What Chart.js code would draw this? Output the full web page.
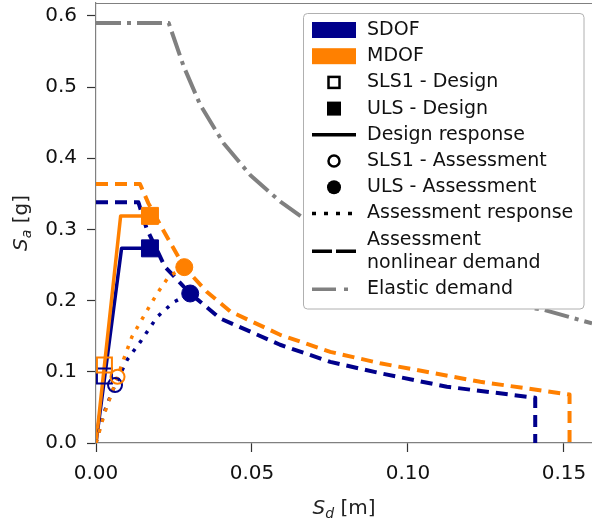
<!DOCTYPE html>
<html>
<head>
<meta charset="utf-8">
<script src="https://cdn.jsdelivr.net/npm/chart.js@4.4.0/dist/chart.umd.min.js"></script>
<style>
  html, body { margin: 0; padding: 0; background: #fff; }
  #wrap { width: 592px; height: 525px; }
</style>
</head>
<body>
<div id="wrap"><canvas id="capacityChart" width="592" height="525"></canvas></div>
<script>
// Spectral displacement Sd [m] and spectral acceleration Sa [g]

// design response (bilinear)
var sdofDesignSd = [0, 0.0082, 0.0173];
var sdofDesignSa = [0, 0.2734, 0.2734];
var mdofDesignSd = [0, 0.0079, 0.0173];
var mdofDesignSa = [0, 0.319, 0.319];

// assessment response (pushover)
var sdofAssessSd = [0, 0.0023, 0.0039, 0.0061, 0.0100, 0.0142, 0.0196, 0.0249, 0.0302];
var sdofAssessSa = [0, 0.039, 0.058, 0.0815, 0.117, 0.142, 0.177, 0.198, 0.210];
var mdofAssessSd = [0, 0.0029, 0.0069, 0.0089, 0.0115, 0.0158, 0.0196, 0.0233, 0.0283];
var mdofAssessSa = [0, 0.044, 0.093, 0.118, 0.149, 0.182, 0.210, 0.2336, 0.247];

// assessment nonlinear demand
var sdofDemandSd = [0, 0.0136, 0.0162, 0.0221, 0.0302, 0.0398, 0.059, 0.0751, 0.0911, 0.1125, 0.1408, 0.1408];
var sdofDemandSa = [0.338, 0.338, 0.3015, 0.2476, 0.210, 0.175, 0.138, 0.114, 0.098, 0.079, 0.0636, 0];
var mdofDemandSd = [0, 0.0141, 0.0168, 0.0221, 0.0283, 0.0355, 0.043, 0.059, 0.0751, 0.0911, 0.1232, 0.1518, 0.1518];
var mdofDemandSa = [0.3638, 0.3638, 0.3366, 0.2945, 0.247, 0.2125, 0.185, 0.152, 0.128, 0.112, 0.086, 0.068, 0];

// elastic demand spectrum
var elasticSd = [0, 0.0233, 0.0281, 0.0334, 0.0409, 0.0495, 0.0591, 0.0665, 0.1408, 0.1435, 0.159];
var elasticSa = [0.59, 0.59, 0.529, 0.475, 0.421, 0.376, 0.339, 0.316, 0.189, 0.187, 0.168];

// performance points [Sd, Sa]
var sdofSls1Design = [0.0027, 0.094];
var mdofSls1Design = [0.0027, 0.1096];
var sdofUlsDesign = [0.0173, 0.2734];
var mdofUlsDesign = [0.0173, 0.319];
var sdofSls1Assess = [0.0061, 0.0815];
var mdofSls1Assess = [0.0069, 0.093];
var sdofUlsAssess = [0.0302, 0.210];
var mdofUlsAssess = [0.0283, 0.247];

var xTicks = [0, 0.05, 0.10, 0.15];
var xTickLabels = ['0.00', '0.05', '0.10', '0.15'];
var yTicks = [0, 0.1, 0.2, 0.3, 0.4, 0.5, 0.6];
var yTickLabels = ['0.0', '0.1', '0.2', '0.3', '0.4', '0.5', '0.6'];

var NAVY = '#00008b';
var ORANGE = '#ff8000';
var GREY = '#808080';
var FONT = 'DejaVu Sans';

function toPoints(sd, sa) {
  return sd.map(function(x, i) { return { x: x, y: sa[i] }; });
}

function curve(sd, sa, color, dash, width, order) {
  return {
    data: toPoints(sd, sa),
    showLine: true,
    borderColor: color,
    borderWidth: width,
    borderDash: dash,
    borderJoinStyle: 'round',
    pointRadius: 0,
    pointHoverRadius: 0,
    tension: 0,
    fill: false,
    order: order
  };
}

function marker(pt, color, style, radius, filled, order) {
  return {
    data: [{ x: pt[0], y: pt[1] }],
    showLine: false,
    pointStyle: style,
    pointRadius: radius,
    pointHoverRadius: radius,
    pointBorderWidth: filled ? 1 : 2,
    pointBorderColor: color,
    pointBackgroundColor: filled ? color : 'rgba(0,0,0,0)',
    order: order
  };
}

var DASHED = [12, 7];
var DOTTED = [3.5, 7.5];
var DASHDOT = [25, 6, 4, 6];

var datasets = [
  curve(elasticSd, elasticSa, GREY, DASHDOT, 4, 20),
  curve(sdofDemandSd, sdofDemandSa, NAVY, DASHED, 4, 19),
  curve(mdofDemandSd, mdofDemandSa, ORANGE, DASHED, 4, 18),
  curve(sdofDesignSd, sdofDesignSa, NAVY, [], 3.5, 17),
  curve(mdofDesignSd, mdofDesignSa, ORANGE, [], 3.5, 16),
  curve(sdofAssessSd, sdofAssessSa, NAVY, DOTTED, 3.5, 15),
  curve(mdofAssessSd, mdofAssessSa, ORANGE, DOTTED, 3.5, 14),
  marker(sdofSls1Design, NAVY, 'rect', 10.6, false, 9),
  marker(mdofSls1Design, ORANGE, 'rect', 10.6, false, 8),
  marker(sdofUlsDesign, NAVY, 'rect', 12, true, 7),
  marker(mdofUlsDesign, ORANGE, 'rect', 12, true, 6),
  marker(sdofSls1Assess, NAVY, 'circle', 7, false, 5),
  marker(mdofSls1Assess, ORANGE, 'circle', 7, false, 4),
  marker(sdofUlsAssess, NAVY, 'circle', 8.5, true, 3),
  marker(mdofUlsAssess, ORANGE, 'circle', 8.5, true, 2)
];

var legendItems = [
  { label: 'SDOF', kind: 'patch', color: NAVY },
  { label: 'MDOF', kind: 'patch', color: ORANGE },
  { label: 'SLS1 - Design', kind: 'squareOpen' },
  { label: 'ULS - Design', kind: 'squareFilled' },
  { label: 'Design response', kind: 'line', dash: [] },
  { label: 'SLS1 - Assessment', kind: 'circleOpen' },
  { label: 'ULS - Assessment', kind: 'circleFilled' },
  { label: 'Assessment response', kind: 'line', dash: [4, 8] },
  { label: ['Assessment', 'nonlinear demand'], kind: 'line', dash: [20, 4] },
  { label: 'Elastic demand', kind: 'line', dash: [24, 8, 4, 8], color: GREY }
];

// italic symbol with subscript followed by a unit, centred on the origin
function drawMathLabel(ctx, sym, sub, unit) {
  var big = '20px "' + FONT + '"';
  var bigIt = 'italic 20px "' + FONT + '"';
  var small = 'italic 14px "' + FONT + '"';
  ctx.font = bigIt; var w1 = ctx.measureText(sym).width;
  ctx.font = small; var w2 = ctx.measureText(sub).width;
  ctx.font = big; var w3 = ctx.measureText(unit).width;
  var x = -(w1 + w2 + w3) / 2;
  ctx.textAlign = 'left';
  ctx.textBaseline = 'alphabetic';
  ctx.font = bigIt; ctx.fillText(sym, x, 0);
  ctx.font = small; ctx.fillText(sub, x + w1, 4);
  ctx.font = big; ctx.fillText(unit, x + w1 + w2, 0);
}

var decorPlugin = {
  id: 'decor',
  afterDraw: function(chart) {
    var ctx = chart.ctx;
    var area = chart.chartArea;
    ctx.save();

    // top spine
    ctx.strokeStyle = GREY;
    ctx.lineWidth = 1.2;
    ctx.beginPath();
    ctx.moveTo(area.left, area.top + 0.5);
    ctx.lineTo(area.right, area.top + 0.5);
    ctx.stroke();

    // axis titles
    ctx.fillStyle = '#222';
    ctx.save();
    ctx.translate((area.left + area.right) / 2, 514);
    drawMathLabel(ctx, 'S', 'd', ' [m]');
    ctx.restore();
    ctx.save();
    ctx.translate(27, (area.top + area.bottom) / 2);
    ctx.rotate(-Math.PI / 2);
    drawMathLabel(ctx, 'S', 'a', ' [g]');
    ctx.restore();

    // legend box
    var bx = 303.5, by = 13.5, bw = 280.5, bh = 295.5, r = 4;
    ctx.beginPath();
    ctx.moveTo(bx + r, by);
    ctx.arcTo(bx + bw, by, bx + bw, by + bh, r);
    ctx.arcTo(bx + bw, by + bh, bx, by + bh, r);
    ctx.arcTo(bx, by + bh, bx, by, r);
    ctx.arcTo(bx, by, bx + bw, by, r);
    ctx.closePath();
    ctx.fillStyle = '#fff';
    ctx.fill();
    ctx.strokeStyle = '#b0b0b0';
    ctx.lineWidth = 1;
    ctx.stroke();

    var hx0 = 312, hx1 = 356, hc = 334, tx = 367;
    var y = 30;
    ctx.font = '19px "' + FONT + '"';
    ctx.textBaseline = 'middle';
    ctx.textAlign = 'left';
    legendItems.forEach(function(item) {
      var lines = Array.isArray(item.label) ? item.label : [item.label];
      var cy = y + (lines.length - 1) * 23.5 / 2;
      var col = item.color || '#000';
      ctx.fillStyle = col;
      ctx.strokeStyle = col;
      ctx.setLineDash([]);
      if (item.kind === 'patch') {
        ctx.fillRect(hx0, cy - 8, hx1 - hx0, 16);
      } else if (item.kind === 'squareOpen') {
        ctx.lineWidth = 2.5;
        ctx.strokeRect(hc - 5.5, cy - 5.5, 11, 11);
      } else if (item.kind === 'squareFilled') {
        ctx.fillRect(hc - 7, cy - 7, 14, 14);
      } else if (item.kind === 'circleOpen') {
        ctx.lineWidth = 2.5;
        ctx.beginPath(); ctx.arc(hc, cy, 5.5, 0, Math.PI * 2); ctx.stroke();
      } else if (item.kind === 'circleFilled') {
        ctx.beginPath(); ctx.arc(hc, cy, 7, 0, Math.PI * 2); ctx.fill();
      } else {
        ctx.lineWidth = 3.5;
        ctx.setLineDash(item.dash);
        ctx.beginPath(); ctx.moveTo(hx0, cy); ctx.lineTo(hx1, cy); ctx.stroke();
        ctx.setLineDash([]);
      }
      ctx.fillStyle = '#111';
      lines.forEach(function(t, i) { ctx.fillText(t, tx, y + i * 23.5); });
      y += 26.2 + (lines.length - 1) * 23.5;
    });
    ctx.restore();
  }
};

var ctx = document.getElementById('capacityChart').getContext('2d');
new Chart(ctx, {
  type: 'scatter',
  data: { datasets: datasets },
  options: {
    responsive: false,
    animation: false,
    devicePixelRatio: 1,
    events: [],
    layout: { autoPadding: false, padding: { top: 3, right: 0, left: 0, bottom: 0 } },
    plugins: { legend: { display: false }, tooltip: { enabled: false } },
    scales: {
      x: {
        type: 'linear',
        min: 0,
        max: 0.159,
        afterFit: function(scale) {
          scale.height = 82;
          scale.paddingLeft = 0;
          scale.paddingRight = 0;
        },
        afterBuildTicks: function(scale) {
          scale.ticks = xTicks.map(function(v) { return { value: v }; });
        },
        ticks: {
          callback: function(value, index) { return xTickLabels[index]; },
          font: { family: FONT, size: 20 },
          color: '#111',
          padding: 10,
          maxRotation: 0,
          autoSkip: false
        },
        grid: { drawOnChartArea: false, drawTicks: true, tickLength: 9, tickColor: '#333', tickWidth: 1.2 },
        border: { display: true, color: GREY, width: 1.2 }
      },
      y: {
        type: 'linear',
        min: 0,
        max: 0.618,
        afterFit: function(scale) {
          scale.width = 96;
          scale.paddingTop = 0;
          scale.paddingBottom = 0;
        },
        afterBuildTicks: function(scale) {
          scale.ticks = yTicks.map(function(v) { return { value: v }; });
        },
        ticks: {
          callback: function(value, index) { return yTickLabels[index]; },
          font: { family: FONT, size: 20 },
          color: '#111',
          padding: 10,
          autoSkip: false
        },
        grid: { drawOnChartArea: false, drawTicks: true, tickLength: 9, tickColor: '#333', tickWidth: 1.2 },
        border: { display: true, color: GREY, width: 1.2 }
      }
    }
  },
  plugins: [decorPlugin]
});
</script>
</body>
</html>
